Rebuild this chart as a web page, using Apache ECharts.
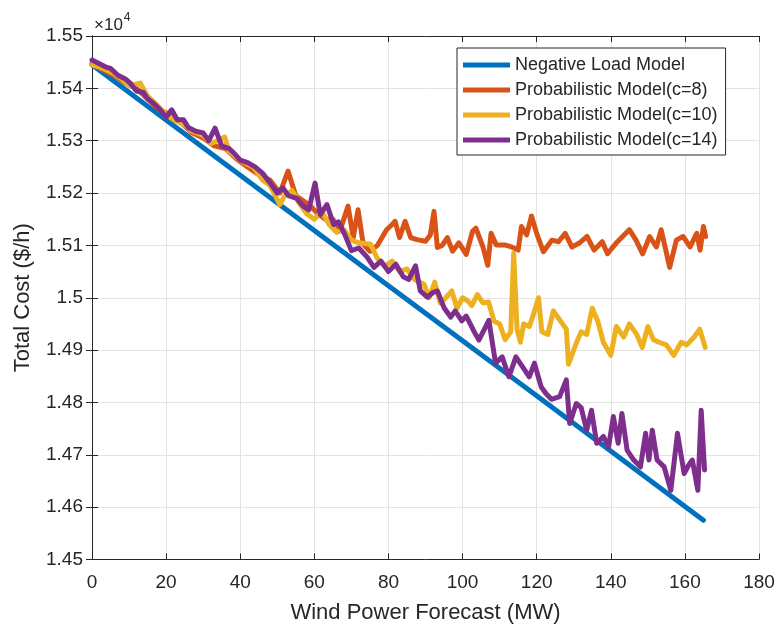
<!DOCTYPE html>
<html>
<head>
<meta charset="utf-8">
<script src="https://cdn.jsdelivr.net/npm/echarts@6/dist/echarts.min.js"></script>
<style>html,body{margin:0;padding:0;background:#fff}#c{width:779px;height:629px}</style>
</head>
<body>
<div id="c"></div>
<script>
// ---- data (cost in $/h, axis shows value x 10^4) ----
var seriesNames = ['Negative Load Model','Probabilistic Model(c=8)','Probabilistic Model(c=10)','Probabilistic Model(c=14)'];
var xTicks = [0,20,40,60,80,100,120,140,160,180];
var yTickLabels = ['1.45','1.46','1.47','1.48','1.49','1.5','1.51','1.52','1.53','1.54','1.55'];

var blueX = [0, 40, 80, 120, 165];
var blueY = [15445, 15234, 15023, 14813, 14575];

var orangeX = [0,3,6,9,12,15,18,21,24,27,30,33,36,39,42,45,48,50.7,52.9,55,57,59,61,63,65,67,69.1,70.5,71.8,73.2,75,77,79.5,81,81.8,83,84.5,86,87.7,90,91.3,92.3,93.2,94.5,95.9,97.3,99,101,102.7,103.6,105.5,106.8,107.7,109.1,111.4,113.2,115,115.9,117.3,118.6,120,121.8,124.1,125.9,127.7,129.5,131.4,133.6,135.5,137.7,139.1,141.4,143.2,145,146.8,148.6,150.5,152.3,153.6,155.9,157.7,159.5,161.4,163.2,164.1,165,165.6];
var orangeY = [15448,15435,15425,15410,15400,15380,15360,15350,15335,15315,15305,15290,15285,15265,15250,15235,15225,15200,15242,15195,15185,15175,15160,15150,15150,15130,15175,15115,15168,15102,15089,15100,15130,15140,15146,15115,15146,15115,15111,15108,15120,15165,15096,15100,15115,15089,15105,15083,15127,15133,15097,15062,15123,15101,15101,15097,15091,15136,15120,15156,15123,15088,15110,15107,15123,15097,15104,15117,15091,15107,15084,15104,15117,15130,15110,15084,15117,15097,15130,15058,15110,15117,15097,15123,15091,15136,15117];

var yellowX = [0,3,6,8,10,13,15,17,20,22,25,27,30,32,34,35.8,37,40,42,43.5,46,48,50.7,52,54,56,58,60,62,64,66,68,70,72,75.2,77,79,81,83,85,87,89.6,91,92.5,94,95.5,97.1,98.5,100,101.4,102.5,104,105.5,107,108.5,110,111.5,113,113.8,114.7,115.6,116.5,118,119,120.5,121.4,123,124.5,126,128,128.6,130.5,132,133.5,135,136.5,138,140,141.5,143.5,145,147,148.5,150,151.5,153,155,157,159,160.5,162.5,164,165.5];
var yellowY = [15445,15438,15428,15418,15405,15410,15385,15372,15350,15340,15330,15318,15310,15295,15300,15307,15280,15262,15255,15250,15225,15215,15178,15195,15205,15180,15160,15150,15165,15140,15125,15130,15110,15105,15102,15075,15060,15070,15050,15055,15035,15026,15000,15030,14990,15000,15013,14980,15000,14994,14985,15006,14990,14992,14955,14950,14920,14935,15085,14940,14915,14950,14945,14965,15000,14935,14930,14975,14960,14940,14873,14910,14935,14930,14980,14955,14915,14890,14945,14925,14950,14930,14905,14945,14920,14915,14910,14890,14915,14910,14925,14940,14905];

var purpleX = [0,2,4,5,7,9,10.3,12,13.9,15,16.5,18.4,20,21.5,23,24.7,26,28,30,31.5,33.2,35,37,38.5,40,42,44,46,48,50,51.5,53,55.2,57,58.5,60.2,61.6,63.4,65.2,66.5,68.2,70,72,74.3,76.1,78,80,82,84,85.5,87.3,88.6,90.5,92,93.2,95,96.8,98,99.8,101,103,104.4,107.1,108.9,110.7,112.5,114.4,116.2,118,119.4,121.2,122.5,124,126.2,128,128.9,130.7,132,133.5,134.8,136.2,138,139.4,140.7,142,143,144.4,146.2,148,149.4,150.3,151.2,152.5,154.4,156.2,158,159.8,161,162,163.5,164.4,165.3];
var purpleY = [15454,15447,15440,15438,15425,15418,15410,15395,15392,15380,15372,15359,15345,15359,15340,15340,15325,15318,15315,15300,15324,15290,15285,15275,15263,15258,15250,15238,15220,15200,15210,15195,15190,15175,15168,15219,15159,15178,15140,15145,15121,15090,15095,15077,15058,15070,15050,15064,15040,15035,15061,15013,15001,15010,15013,14981,14963,14975,14956,14965,14937,14919,14957,14875,14887,14849,14887,14868,14849,14875,14830,14817,14806,14811,14843,14760,14798,14790,14747,14785,14722,14735,14715,14773,14722,14779,14709,14690,14677,14741,14690,14747,14690,14677,14632,14741,14664,14680,14690,14632,14785,14671];

function pairs(xs, ys){ return xs.map(function(x,i){ return [x, ys[i]]; }); }

var colors = ['#0072BD','#D95319','#EDB120','#7E2F8E'];
var FONT = '"Liberation Sans", Arial, Helvetica, sans-serif';
var TXT = '#262626';

var chart = echarts.init(document.getElementById('c'), null, {renderer:'canvas'});
function mkSeries(i, xs, ys){
  return {
    name: seriesNames[i], type:'line', data: pairs(xs, ys),
    xAxisIndex:0, yAxisIndex:0, symbol:'none', smooth:false,
    lineStyle:{width:5, color:colors[i], join:'round', cap:'round'},
    itemStyle:{color:colors[i]}, z: 2 + i
  };
}
chart.setOption({
  animation:false,
  backgroundColor:'#fff',
  grid:{left:92, right:20, top:36, bottom:69.5, containLabel:false},
  graphic:[{type:'text', left:94, top:12, style:{
    text:'{a|\u00d710}{b|4}', fill:TXT,
    rich:{a:{fontSize:17, fontFamily:FONT, fill:TXT, verticalAlign:'bottom'},
          b:{fontSize:12, fontFamily:FONT, fill:TXT, verticalAlign:'top', padding:[0,0,10,1]}}
  }}],
  legend:{
    orient:'vertical', left:457, top:48,
    data: seriesNames, icon:'rect', itemWidth:47, itemHeight:5, itemGap:7,
    padding:[8,8,6,6], borderColor:TXT, borderWidth:1, backgroundColor:'#fff',
    textStyle:{fontSize:18, fontFamily:FONT, color:TXT, padding:[0,0,0,0]}
  },
  xAxis:[{
    type:'value', min:0, max:180, interval:20, position:'bottom',
    name:'Wind Power Forecast (MW)', nameLocation:'middle', nameGap:42,
    nameTextStyle:{fontSize:22, fontFamily:FONT, color:TXT},
    axisLine:{show:true, lineStyle:{color:TXT, width:1}},
    axisTick:{show:true, inside:true, length:6, lineStyle:{color:TXT}},
    axisLabel:{fontSize:19, fontFamily:FONT, color:TXT, margin:14,
      formatter:function(v){ return xTicks.indexOf(v) >= 0 ? String(v) : ''; }},
    splitLine:{show:true, lineStyle:{color:'#e3e3e3', width:1}}
  },{
    type:'value', min:0, max:180, interval:20, position:'top',
    axisLine:{show:true, lineStyle:{color:TXT, width:1}},
    axisTick:{show:true, inside:true, length:6, lineStyle:{color:TXT}},
    axisLabel:{show:false}, splitLine:{show:false}
  }],
  yAxis:[{
    type:'value', min:14500, max:15500, interval:100, position:'left',
    name:'Total Cost ($/h)', nameLocation:'middle', nameGap:58,
    nameTextStyle:{fontSize:22, fontFamily:FONT, color:TXT},
    axisLine:{show:true, lineStyle:{color:TXT, width:1}},
    axisTick:{show:true, inside:true, length:6, lineStyle:{color:TXT}},
    axisLabel:{fontSize:19, fontFamily:FONT, color:TXT, margin:9,
      formatter:function(v){ var k=Math.round((v-14500)/100); return yTickLabels[k] || ''; }},
    splitLine:{show:true, lineStyle:{color:'#e3e3e3', width:1}}
  },{
    type:'value', min:14500, max:15500, interval:100, position:'right',
    axisLine:{show:true, lineStyle:{color:TXT, width:1}},
    axisTick:{show:true, inside:true, length:6, lineStyle:{color:TXT}},
    axisLabel:{show:false}, splitLine:{show:false}
  }],
  series:[
    mkSeries(0, blueX, blueY),
    mkSeries(1, orangeX, orangeY),
    mkSeries(2, yellowX, yellowY),
    mkSeries(3, purpleX, purpleY)
  ]
});
</script>
</body>
</html>
